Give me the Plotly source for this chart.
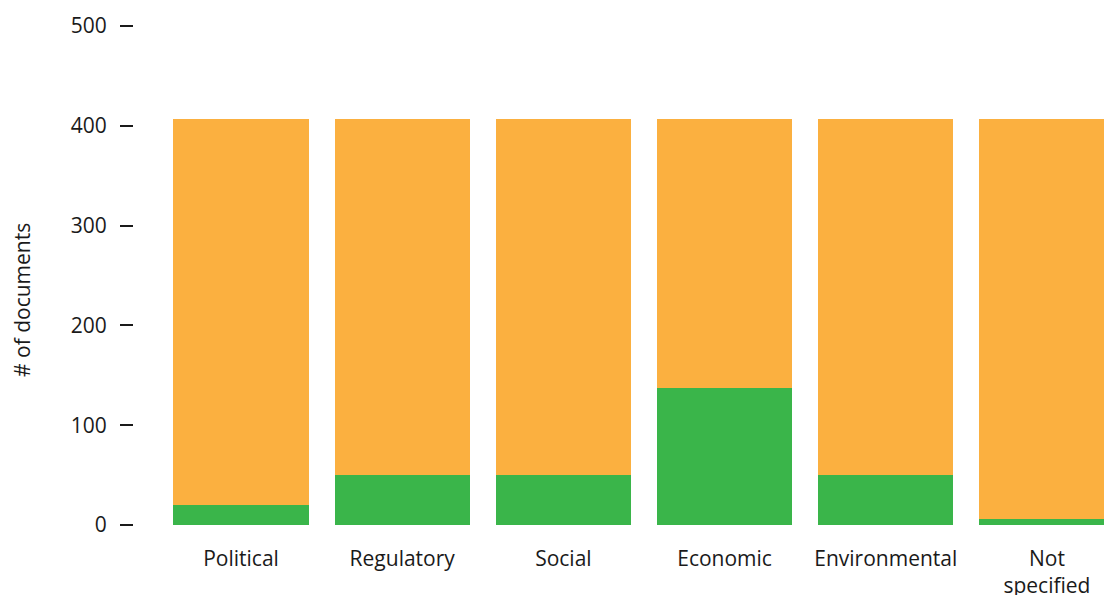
import plotly.graph_objects as go

categories = ["Political", "Regulatory", "Social", "Economic", "Environmental", "Not<br>specified"]
green_values = [20, 50, 50, 137, 50, 6]
orange_values = [387, 357, 357, 270, 357, 401]
y_ticks = [0, 100, 200, 300, 400, 500]

GREEN = "#3AB54A"
ORANGE = "#FBB040"
TEXT = "#1a1a1a"
FONT = "Open Sans, DejaVu Sans, sans-serif"

fig = go.Figure()
fig.add_bar(x=categories, y=green_values, marker=dict(color=GREEN, line=dict(width=0)),
            width=0.84, showlegend=False, hoverinfo="x+y")
fig.add_bar(x=categories, y=orange_values, marker=dict(color=ORANGE, line=dict(width=0)),
            width=0.84, showlegend=False, hoverinfo="x+y")

# vertical axis title, placed a little below the middle of the plot area
fig.add_annotation(
    text="# of documents", textangle=-90,
    xref="paper", yref="paper", x=-0.1155, y=0.453,
    xanchor="center", yanchor="middle", showarrow=False,
    font=dict(family=FONT, size=21, color=TEXT),
)

fig.update_layout(
    barmode="stack",
    width=1104, height=595,
    margin=dict(l=134, r=0, t=26, b=68),
    plot_bgcolor="white", paper_bgcolor="white",
    font=dict(family=FONT, size=21, color=TEXT),
    xaxis=dict(
        type="category",
        range=[-0.664, 5.354],
        automargin=False,
        showline=False, showgrid=False, zeroline=False,
        ticks="", ticklabelstandoff=17,
        tickfont=dict(size=21),
    ),
    yaxis=dict(
        range=[-2, 500],
        tickvals=y_ticks,
        automargin=False,
        showline=False, showgrid=False, zeroline=False,
        ticks="outside", ticklen=13, tickwidth=2, tickcolor=TEXT,
        ticklabelstandoff=9,
        tickfont=dict(size=21),
    ),
)

fig.write_html("out.html")
